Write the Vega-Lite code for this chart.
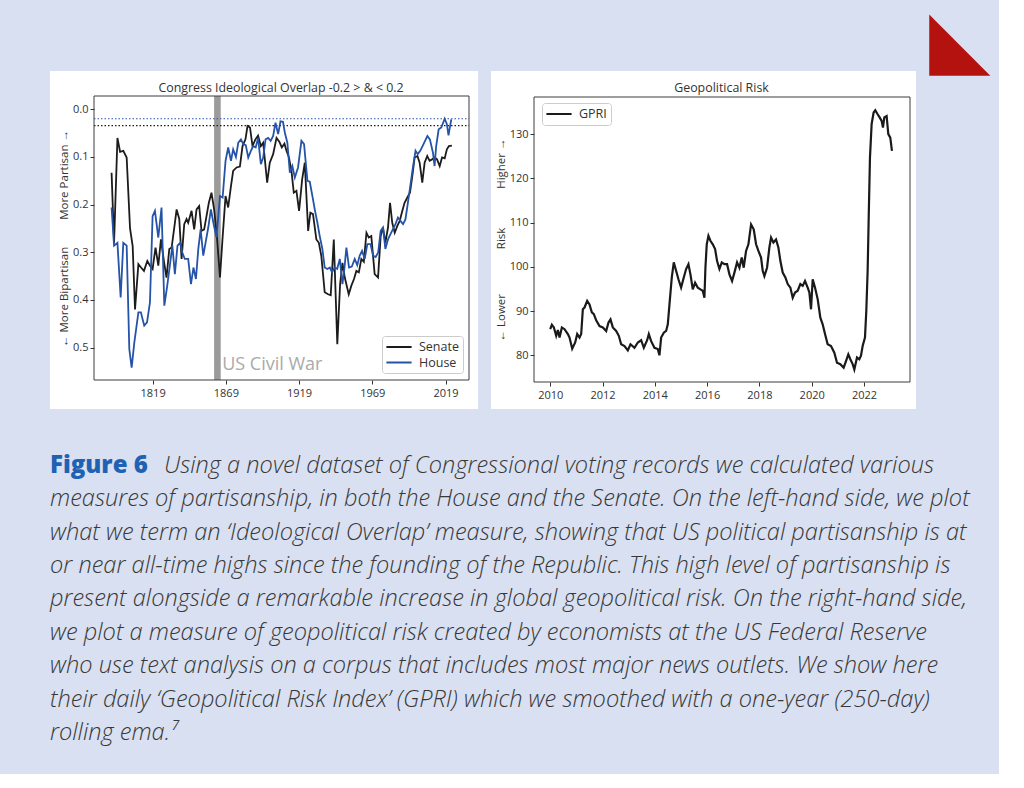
{
"$schema": "https://vega.github.io/schema/vega-lite/v6.json",
"background": "#d8e0f1",
"padding": {"left": 50, "top": 2, "right": 8, "bottom": 17},
"title": {"text": "◣", "anchor": "start", "frame": "group", "font": "DejaVu Sans", "fontSize": 80, "fontWeight": "normal", "color": "#b3120e", "offset": -12, "dx": 879},
"spacing": 44,
"datasets": {
"senate": [[1791,0.133],[1792.7,0.28],[1795,0.06],[1796.8,0.089],[1799,0.087],[1801.3,0.101],[1803.6,0.25],[1805.4,0.287],[1807,0.42],[1809.3,0.325],[1811.1,0.332],[1813.1,0.339],[1815.4,0.318],[1817.2,0.328],[1819,0.335],[1821,0.29],[1822.9,0.328],[1824.7,0.273],[1826.8,0.32],[1828.5,0.353],[1830.4,0.293],[1832,0.29],[1833.8,0.248],[1835.4,0.21],[1837.2,0.23],[1838.8,0.314],[1840.6,0.241],[1842.2,0.23],[1843.3,0.238],[1845.6,0.213],[1847.4,0.252],[1849,0.21],[1850.8,0.203],[1852.4,0.255],[1854.2,0.252],[1855.8,0.224],[1857.4,0.196],[1859.2,0.175],[1861,0.21],[1862.9,0.266],[1865,0.353],[1866.7,0.273],[1868.8,0.182],[1870.6,0.206],[1872.5,0.161],[1874,0.129],[1876.3,0.122],[1878.6,0.12],[1880.4,0.077],[1882.4,0.063],[1883.8,0.035],[1885.5,0.038],[1887.2,0.077],[1889.2,0.063],[1891,0.055],[1892.9,0.077],[1894.5,0.07],[1897.2,0.154],[1899,0.112],[1901.3,0.094],[1903.6,0.06],[1905.5,0.068],[1907.2,0.08],[1909,0.072],[1910.4,0.087],[1912,0.1],[1913.8,0.129],[1915.4,0.175],[1917.2,0.171],[1919,0.213],[1921.1,0.147],[1922.9,0.112],[1925.2,0.255],[1926.7,0.217],[1928.5,0.22],[1930.8,0.273],[1932.5,0.28],[1934.2,0.308],[1936.5,0.384],[1938.8,0.388],[1940.6,0.39],[1942.7,0.273],[1945.1,0.493],[1947,0.367],[1948.6,0.322],[1950.2,0.353],[1952.9,0.388],[1954.7,0.37],[1956.5,0.356],[1958.1,0.339],[1959.8,0.342],[1961.5,0.314],[1963.2,0.32],[1965,0.259],[1966.6,0.269],[1968.3,0.266],[1970.6,0.346],[1972.9,0.353],[1974.7,0.266],[1976.3,0.248],[1977.9,0.28],[1979.7,0.248],[1981.1,0.196],[1982.6,0.238],[1984.3,0.259],[1986,0.245],[1987.7,0.234],[1989.5,0.213],[1991,0.196],[1992.9,0.185],[1994.7,0.175],[1996.3,0.14],[1997.9,0.101],[1999.8,0.098],[2001.3,0.112],[2003.1,0.154],[2004.7,0.112],[2006.5,0.098],[2008.1,0.108],[2009.8,0.105],[2011.5,0.101],[2013.2,0.105],[2015,0.119],[2016.6,0.101],[2018.4,0.103],[2019.9,0.084],[2021.3,0.077],[2023.3,0.076]],
"house": [[1791,0.206],[1792.7,0.286],[1795,0.28],[1797.2,0.395],[1799,0.28],[1801.3,0.286],[1803.1,0.503],[1804.7,0.542],[1806.5,0.49],[1809.3,0.426],[1811,0.426],[1813.3,0.454],[1815.2,0.447],[1817.2,0.405],[1819,0.224],[1820.6,0.213],[1822.9,0.269],[1825.1,0.206],[1827,0.412],[1829,0.37],[1830.9,0.325],[1832.5,0.286],[1834.2,0.346],[1836,0.286],[1837.8,0.28],[1839.2,0.3],[1841,0.314],[1843.3,0.314],[1845.2,0.367],[1846.9,0.332],[1848.6,0.356],[1850.2,0.293],[1851.8,0.252],[1853.6,0.307],[1855.2,0.279],[1857,0.248],[1858.8,0.21],[1860.5,0.238],[1862.6,0.269],[1865,0.182],[1866.8,0.185],[1868.8,0.108],[1870.6,0.08],[1872.5,0.108],[1874,0.084],[1875.9,0.1],[1877.5,0.07],[1879.3,0.063],[1880.9,0.073],[1882.6,0.075],[1884.3,0.101],[1886.1,0.087],[1887.7,0.077],[1889.4,0.08],[1891,0.06],[1892.9,0.115],[1894.5,0.101],[1896.1,0.063],[1897.9,0.06],[1899.6,0.066],[1901.3,0.056],[1902.9,0.028],[1904.7,0.052],[1906.3,0.025],[1908,0.026],[1909.3,0.049],[1911,0.07],[1912.7,0.133],[1914.4,0.119],[1916.1,0.143],[1918.3,0.122],[1920.6,0.066],[1922.4,0.073],[1924.7,0.15],[1926.3,0.152],[1928.1,0.182],[1929.7,0.21],[1931.5,0.238],[1933.1,0.266],[1934.9,0.293],[1936.5,0.332],[1938.3,0.335],[1940,0.332],[1941.5,0.342],[1943.3,0.332],[1945,0.335],[1946.8,0.314],[1948.6,0.367],[1950,0.332],[1951.3,0.29],[1953.1,0.332],[1955,0.33],[1957,0.314],[1958.7,0.327],[1960.4,0.307],[1962,0.297],[1963.8,0.314],[1965.6,0.283],[1967.8,0.283],[1969.5,0.307],[1971.3,0.31],[1973,0.3],[1974.7,0.255],[1976.3,0.248],[1977.9,0.293],[1979.7,0.273],[1981.4,0.262],[1983,0.252],[1984.8,0.241],[1986.5,0.227],[1988.2,0.234],[1990,0.241],[1991.6,0.231],[1993.3,0.196],[1995.1,0.157],[1996.7,0.122],[1998.5,0.087],[2000,0.094],[2001.7,0.087],[2003.3,0.077],[2005,0.066],[2006.6,0.056],[2008.3,0.063],[2010.4,0.091],[2011.5,0.119],[2012.6,0.077],[2014.3,0.042],[2016.1,0.038],[2018.4,0.0197],[2019.9,0.031],[2021,0.0545],[2022.9,0.021]],
"gpri": [[2010.0,85.9],[2010.064,86.9],[2010.14,86.3],[2010.229,84.4],[2010.293,85.7],[2010.357,84.0],[2010.446,86.3],[2010.548,85.9],[2010.675,84.8],[2010.739,84.0],[2010.841,81.5],[2010.955,82.9],[2011.032,84.8],[2011.121,84.0],[2011.185,84.8],[2011.248,90.4],[2011.312,90.8],[2011.414,92.3],[2011.503,91.5],[2011.592,89.7],[2011.669,89.3],[2011.758,87.9],[2011.885,86.6],[2012.013,86.3],[2012.14,85.5],[2012.229,87.4],[2012.306,88.1],[2012.395,86.3],[2012.522,85.5],[2012.624,84.4],[2012.713,82.5],[2012.841,82.1],[2012.968,81.1],[2013.07,82.5],[2013.223,81.7],[2013.35,82.9],[2013.478,83.4],[2013.58,81.7],[2013.707,83.4],[2013.771,84.8],[2013.86,83.2],[2013.987,81.7],[2014.115,81.4],[2014.178,80.0],[2014.242,84.0],[2014.344,85.1],[2014.433,85.5],[2014.497,87.0],[2014.561,91.5],[2014.65,97.6],[2014.726,101.0],[2014.815,99.1],[2014.904,97.2],[2015.006,95.3],[2015.108,97.6],[2015.197,99.5],[2015.287,100.6],[2015.363,98.3],[2015.452,94.9],[2015.541,96.4],[2015.643,95.3],[2015.745,94.9],[2015.834,94.6],[2015.898,93.0],[2015.936,99.8],[2015.987,105.1],[2016.051,107.0],[2016.127,105.9],[2016.217,105.1],[2016.306,104.0],[2016.382,101.3],[2016.471,99.5],[2016.561,101.0],[2016.662,100.6],[2016.764,100.6],[2016.854,98.3],[2016.955,96.8],[2017.045,98.7],[2017.146,101.0],[2017.236,99.8],[2017.325,102.1],[2017.401,99.8],[2017.49,103.6],[2017.58,105.1],[2017.682,109.6],[2017.783,108.5],[2017.873,105.1],[2017.962,103.6],[2018.064,102.1],[2018.127,99.1],[2018.191,97.9],[2018.293,99.8],[2018.382,104.4],[2018.446,106.6],[2018.535,105.5],[2018.637,106.2],[2018.726,104.4],[2018.803,101.3],[2018.892,98.7],[2018.994,97.6],[2019.083,96.1],[2019.185,95.3],[2019.274,93.0],[2019.363,94.2],[2019.465,94.6],[2019.567,96.1],[2019.656,95.7],[2019.745,96.8],[2019.847,95.3],[2019.911,94.2],[2019.975,90.4],[2020.038,97.2],[2020.127,95.3],[2020.229,92.7],[2020.331,88.5],[2020.42,87.0],[2020.51,84.8],[2020.611,82.5],[2020.739,82.1],[2020.866,80.6],[2020.968,78.3],[2021.096,78.0],[2021.223,77.2],[2021.312,78.7],[2021.401,80.2],[2021.478,79.1],[2021.567,78.0],[2021.631,76.8],[2021.733,79.5],[2021.822,79.1],[2021.885,79.9],[2021.949,82.1],[2022.038,84.0],[2022.089,90.0],[2022.14,99.1],[2022.178,110.4],[2022.229,124.7],[2022.293,132.3],[2022.369,134.9],[2022.433,135.4],[2022.522,134.5],[2022.599,133.8],[2022.675,133.0],[2022.726,131.5],[2022.777,133.8],[2022.866,134.1],[2022.93,130.0],[2023.006,129.2],[2023.07,126.2]],
"caption": [
{"line": 1, "text": "Using a novel dataset of Congressional voting records we calculated various"},
{"line": 2, "text": "measures of partisanship, in both the House and the Senate. On the left-hand side, we plot"},
{"line": 3, "text": "what we term an ‘Ideological Overlap’ measure, showing that US political partisanship is at"},
{"line": 4, "text": "or near all-time highs since the founding of the Republic. This high level of partisanship is"},
{"line": 5, "text": "present alongside a remarkable increase in global geopolitical risk. On the right-hand side,"},
{"line": 6, "text": "we plot a measure of geopolitical risk created by economists at the US Federal Reserve"},
{"line": 7, "text": "who use text analysis on a corpus that includes most major news outlets. We show here"},
{"line": 8, "text": "their daily ‘Geopolitical Risk Index’ (GPRI) which we smoothed with a one-year (250-day)"},
{"line": 9, "text": "rolling ema.⁷"}
]
},
"vconcat": [
{
"hconcat": [
{
"width": 428, "height": 338,
"view": {"fill": "white", "stroke": null},
"title": {"text": "Congress Ideological Overlap -0.2 > & < 0.2", "fontSize": 12.4, "fontWeight": "normal", "color": "#333333", "offset": -23, "dx": 17, "frame": "group"},
"layer": [
{
"data": {"values": [{"s": 1861, "e": 1865.5}]},
"mark": {"type": "rect", "color": "#9b9b9b"},
"encoding": {
"x": {"field": "s", "type": "quantitative", "scale": {"domain": [1779, 2035], "range": [44, 419], "nice": false, "zero": false}, "axis": {"values": [1819, 1869, 1919, 1969, 2019], "format": "d", "title": null, "offset": -29, "domain": false, "grid": false, "tickSize": 4, "tickColor": "#333333", "labelColor": "#333333", "labelFontSize": 11, "labelPadding": 3}},
"x2": {"field": "e"},
"y": {"datum": -0.028, "type": "quantitative", "scale": {"domain": [-0.028, 0.568], "range": [25, 309], "nice": false, "zero": false}, "axis": {"values": [0, 0.1, 0.2, 0.3, 0.4, 0.5], "format": ".1f", "title": "← More Bipartisan\u00a0\u00a0\u00a0\u00a0\u00a0\u00a0\u00a0\u00a0\u00a0More Partisan →", "offset": -44, "domain": false, "grid": false, "tickSize": 4, "tickColor": "#333333", "labelColor": "#333333", "labelFontSize": 11, "titleFontSize": 11.5, "titleFontWeight": "normal", "titleColor": "#333333", "titlePadding": 3}},
"y2": {"datum": 0.568}
}
},
{
"data": {"values": [{"c": "House", "m": 0.0197}, {"c": "Senate", "m": 0.034}]},
"mark": {"type": "rule", "strokeDash": [1.5, 2], "strokeWidth": 1.2},
"encoding": {
"x": {"datum": 1779, "type": "quantitative"},
"x2": {"datum": 2035},
"y": {"field": "m", "type": "quantitative"},
"color": {"field": "c", "type": "nominal"}
}
},
{
"data": {"name": "senate"},
"transform": [{"calculate": "'Senate'", "as": "chamber"}],
"mark": {"type": "line", "strokeWidth": 1.8},
"encoding": {
"x": {"field": "0", "type": "quantitative"},
"y": {"field": "1", "type": "quantitative"},
"color": {"field": "chamber", "type": "nominal", "scale": {"domain": ["Senate", "House"], "range": ["#1c1c1c", "#2553a8"]}, "legend": {"title": null, "orient": "none", "legendX": 332, "legendY": 265}}
}
},
{
"data": {"name": "house"},
"transform": [{"calculate": "'House'", "as": "chamber"}],
"mark": {"type": "line", "strokeWidth": 1.8},
"encoding": {
"x": {"field": "0", "type": "quantitative"},
"y": {"field": "1", "type": "quantitative"},
"color": {"field": "chamber", "type": "nominal"}
}
},
{
"data": {"values": [{"t": "US Civil War"}]},
"mark": {"type": "text", "align": "left", "baseline": "middle", "fontSize": 18, "color": "#aaaaaa"},
"encoding": {"x": {"datum": 1866.5, "type": "quantitative"}, "y": {"datum": 0.536, "type": "quantitative"}, "text": {"field": "t"}}
},
{
"data": {"values": [{}]},
"mark": {"type": "rect", "filled": false, "color": "#3d3d3d", "strokeWidth": 1},
"encoding": {"x": {"datum": 1779, "type": "quantitative"}, "x2": {"datum": 2035}, "y": {"datum": -0.028, "type": "quantitative"}, "y2": {"datum": 0.568}}
}
]
},
{
"width": 425, "height": 338,
"view": {"fill": "white", "stroke": null},
"title": {"text": "Geopolitical Risk", "fontSize": 12.4, "fontWeight": "normal", "color": "#333333", "offset": -23, "dx": 18, "frame": "group"},
"layer": [
{
"data": {"name": "gpri"},
"mark": {"type": "line", "strokeWidth": 2.2},
"encoding": {
"x": {"field": "0", "type": "quantitative", "scale": {"domain": [2009.38, 2023.76], "range": [43, 419], "nice": false, "zero": false}, "axis": {"values": [2010, 2011, 2012, 2013, 2014, 2015, 2016, 2017, 2018, 2019, 2020, 2021, 2022, 2023], "format": "d", "labelExpr": "datum.value % 2 == 0 ? datum.label : ''", "title": null, "offset": -27, "domain": false, "grid": false, "tickSize": {"condition": {"test": "datum.value % 2 == 0", "value": 4}, "value": 2}, "tickColor": "#333333", "labelColor": "#333333", "labelFontSize": 11, "labelPadding": 3}},
"y": {"field": "1", "type": "quantitative", "scale": {"domain": [73.96, 138.4], "range": [311, 26], "nice": false, "zero": false}, "axis": {"values": [80, 90, 100, 110, 120, 130], "title": "← Lower\u00a0\u00a0\u00a0\u00a0\u00a0\u00a0\u00a0\u00a0\u00a0\u00a0\u00a0\u00a0\u00a0\u00a0\u00a0Risk\u00a0\u00a0\u00a0\u00a0\u00a0\u00a0\u00a0\u00a0\u00a0\u00a0\u00a0\u00a0\u00a0Higher →", "offset": -43, "domain": false, "grid": false, "tickSize": 4, "tickColor": "#333333", "labelColor": "#333333", "labelFontSize": 11, "titleFontSize": 11.5, "titleFontWeight": "normal", "titleColor": "#333333", "titlePadding": 3}},
"color": {"datum": "GPRI", "type": "nominal", "scale": {"range": ["#1a1a1a"]}, "legend": {"title": null, "orient": "none", "legendX": 51, "legendY": 32}}
}
},
{
"data": {"values": [{}]},
"mark": {"type": "rect", "filled": false, "color": "#3d3d3d", "strokeWidth": 1},
"encoding": {"x": {"datum": 2009.38, "type": "quantitative"}, "x2": {"datum": 2023.76}, "y": {"datum": 73.96, "type": "quantitative"}, "y2": {"datum": 138.4}}
}
]
}
],
"spacing": 13,
"resolve": {"scale": {"color": "independent"}, "legend": {"color": "independent"}}
},
{
"width": 940, "height": {"step": 33.4},
"view": {"stroke": null},
"data": {"name": "caption"},
"encoding": {"y": {"field": "line", "type": "ordinal", "axis": null}},
"layer": [
{
"transform": [{"filter": "datum.line == 1"}],
"mark": {"type": "text", "align": "left", "baseline": "alphabetic", "font": "Open Sans", "fontWeight": 800, "fontSize": 24, "color": "#1f62b4", "text": "Figure 6"},
"encoding": {"x": {"value": 0}}
},
{
"transform": [{"filter": "datum.line == 1"}],
"mark": {"type": "text", "align": "left", "baseline": "alphabetic", "font": "Open Sans", "fontStyle": "italic", "fontWeight": 300, "fontSize": 23.6, "color": "#383838", "dx": 114},
"encoding": {"x": {"value": 0}, "text": {"field": "text"}}
},
{
"transform": [{"filter": "datum.line > 1"}],
"mark": {"type": "text", "align": "left", "baseline": "alphabetic", "font": "Open Sans", "fontStyle": "italic", "fontWeight": 300, "fontSize": 23.6, "color": "#383838"},
"encoding": {"x": {"value": 0}, "text": {"field": "text"}}
}
]
}
],
"config": {
"font": "Open Sans",
"title": {"font": "Open Sans"},
"axis": {"labelFont": "Open Sans", "titleFont": "Open Sans"},
"legend": {"labelFont": "Open Sans", "fillColor": "white", "strokeColor": "#cccccc", "cornerRadius": 3, "padding": 4, "symbolType": "M-2.1,0H2.1", "symbolStrokeWidth": 2, "symbolSize": 144, "symbolOffset": 6, "labelFontSize": 12.5, "labelColor": "#333333", "rowPadding": 1.5, "labelOffset": 13}
}
}
